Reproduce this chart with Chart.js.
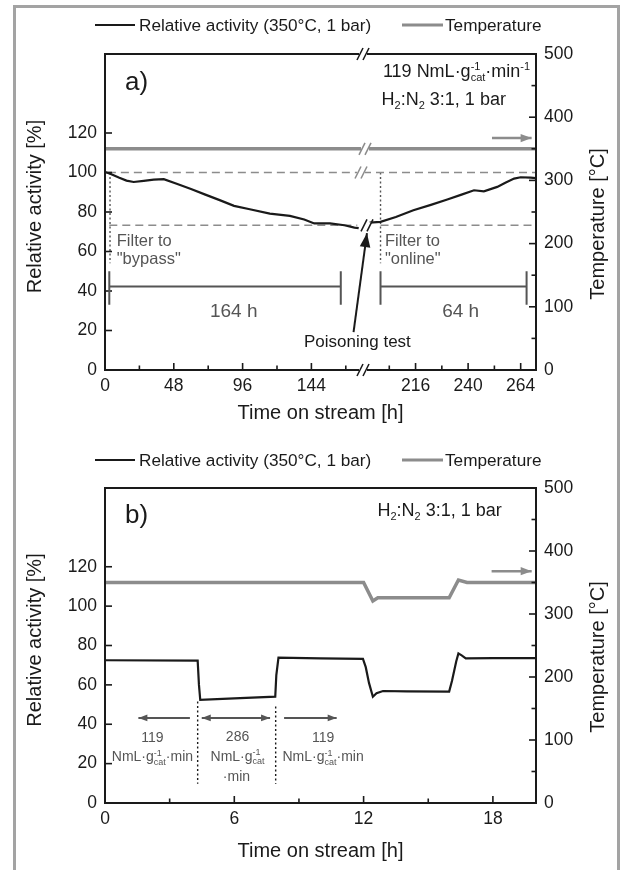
<!DOCTYPE html>
<html>
<head>
<meta charset="utf-8">
<script src="https://cdn.jsdelivr.net/npm/chart.js@4.4.0/dist/chart.umd.min.js"></script>
<style>
  html, body { margin: 0; padding: 0; background: #fff; }
  body { width: 622px; height: 870px; position: relative; overflow: hidden; }
  #frame { position: absolute; left: 13px; top: 5px; width: 607px; height: 900px; border: 3px solid #a3a3a3; box-sizing: border-box; }
  canvas { position: absolute; left: 0; }
  #chartA { top: 0; }
  #chartB { top: 435px; }
</style>
</head>
<body>
<div id="frame"></div>
<canvas id="chartA" width="622" height="435"></canvas>
<canvas id="chartB" width="622" height="435"></canvas>
<script>
// panel a: long run, filter bypass -> poisoning test -> filter online
const actA1Time = [0, 4, 10, 15, 20, 27, 34, 41, 50, 60, 70, 80, 90, 101, 115, 129, 139, 146, 157, 167, 174, 177];
const actA1Val  = [100.3, 99.2, 97.3, 95.9, 95.2, 95.8, 96.4, 96.6, 94.3, 91.6, 88.8, 86.0, 83.1, 81.4, 79.2, 78.0, 76.2, 74.2, 74.2, 73.3, 72.1, 71.8];
const actA2Time = [195, 200, 207, 215, 223, 230.5, 237, 242.7, 247.2, 253.3, 257, 261, 264, 268.5, 271];
const actA2Val  = [74.6, 75.0, 77.5, 80.9, 83.6, 86.3, 88.8, 91.0, 90.5, 92.7, 94.8, 96.9, 97.6, 97.4, 97.2];
const tempALevel = 350;
const refLevels = [100, 73.3];      // dashed guide levels
const filterSwitch = [3.5, 200];    // filter to bypass / online
const axisBreak = [180, 192];
const timeEndA = 271;
const xLabelsA = [0, 48, 96, 144, 216, 240, 264];

// panel b: space velocity steps and temperature step
const actBTime = [0, 4.3, 4.36, 4.42, 6, 7.9, 7.95, 8.05, 10, 11.97, 12.1, 12.25, 12.43, 12.6, 12.9, 14, 15.97, 16.1, 16.3, 16.4, 16.55, 16.74, 18, 20];
const actBVal  = [72.5, 72.3, 60, 52.4, 53.1, 54.0, 65, 73.8, 73.5, 73.2, 69, 61, 54.0, 55.8, 56.9, 56.7, 56.6, 62, 72, 76.0, 75, 73.5, 73.6, 73.6];
const tempBTime = [0, 12.0, 12.43, 12.66, 15.97, 16.4, 16.8, 20];
const tempBVal  = [350, 350, 320.6, 325.8, 325.8, 353.9, 350, 350];
const flowSwitch = [4.3, 7.92];
const xLabelsB = [0, 6, 12, 18];

const actLabels = [0, 20, 40, 60, 80, 100, 120];
const tempLabels = [0, 100, 200, 300, 400, 500];

const FONT = '"Liberation Sans", Arial, sans-serif';
const INK = '#1a1a1a';
const GREY = '#8c8c8c';
const NOTE = '#555555';

Chart.defaults.font.family = FONT;
Chart.defaults.color = INK;

const pts = (xs, ys) => xs.map((x, i) => ({ x: x, y: ys[i] }));

function lineDs(data, xId, yId, color, width, dash) {
    return {
        data: data, xAxisID: xId, yAxisID: yId,
        borderColor: color, backgroundColor: color,
        borderWidth: width, borderDash: dash || [],
        pointRadius: 0, tension: 0, fill: false
    };
}

function labelCb(list) {
    return v => list.includes(v) ? String(v) : '';
}

function xScale(min, max, step, weight, labels, height) {
    return {
        type: 'linear', position: 'bottom', min: min, max: max,
        stack: 'time', stackWeight: weight,
        grid: { display: false, drawTicks: false }, border: { display: false },
        ticks: { stepSize: step, includeBounds: false, autoSkip: false, maxRotation: 0,
                 padding: 6, font: { size: 17.5 }, color: INK, callback: labelCb(labels) },
        afterFit: s => { s.height = height; }
    };
}

function yScales() {
    return {
        y: {
            type: 'linear', position: 'left', min: 0, max: 160,
            grid: { display: false, drawTicks: false }, border: { display: false },
            ticks: { stepSize: 20, autoSkip: false, padding: 8, font: { size: 17.5 }, color: INK,
                     callback: labelCb(actLabels) },
            afterFit: s => { s.width = 105; }
        },
        y2: {
            type: 'linear', position: 'right', min: 0, max: 500,
            grid: { display: false, drawTicks: false }, border: { display: false },
            ticks: { stepSize: 50, autoSkip: false, padding: 8, font: { size: 17.5 }, color: INK,
                     callback: labelCb(tempLabels) },
            afterFit: s => { s.width = 86; }
        }
    };
}

// ---- drawing helpers ----
function drawRich(ctx, parts, x, y, size, align, color) {
    const small = Math.round(size * 0.62);
    const widths = parts.map(p => {
        if (p.length === 1) {
            ctx.font = size + 'px ' + FONT;
            return ctx.measureText(p[0]).width;
        }
        ctx.font = small + 'px ' + FONT;
        return Math.max(ctx.measureText(p[0]).width, ctx.measureText(p[1]).width);
    });
    const total = widths.reduce((s, w) => s + w, 0);
    let cx = align === 'center' ? x - total / 2 : x;
    ctx.fillStyle = color;
    ctx.textAlign = 'left';
    ctx.textBaseline = 'alphabetic';
    parts.forEach((p, i) => {
        if (p.length === 1) {
            ctx.font = size + 'px ' + FONT;
            ctx.fillText(p[0], cx, y);
        } else {
            ctx.font = small + 'px ' + FONT;
            if (p[0]) ctx.fillText(p[0], cx, y - size * 0.42);
            if (p[1]) ctx.fillText(p[1], cx, y + size * 0.22);
        }
        cx += widths[i];
    });
}

function text(ctx, str, x, y, size, color, align) {
    ctx.font = size + 'px ' + FONT;
    ctx.fillStyle = color;
    ctx.textAlign = align || 'left';
    ctx.textBaseline = 'alphabetic';
    ctx.fillText(str, x, y);
}

function head(ctx, x0, y0, x1, y1, len, half) {
    const a = Math.atan2(y1 - y0, x1 - x0);
    const c = Math.cos(a), s = Math.sin(a);
    ctx.beginPath();
    ctx.moveTo(x1, y1);
    ctx.lineTo(x1 - len * c - half * s, y1 - len * s + half * c);
    ctx.lineTo(x1 - len * c + half * s, y1 - len * s - half * c);
    ctx.closePath();
    ctx.fill();
}

function arrow(ctx, x0, y0, x1, y1, color, lw, len, both) {
    ctx.strokeStyle = color;
    ctx.fillStyle = color;
    ctx.lineWidth = lw;
    ctx.setLineDash([]);
    ctx.beginPath();
    ctx.moveTo(x0, y0);
    ctx.lineTo(x1, y1);
    ctx.stroke();
    head(ctx, x0, y0, x1, y1, len, len * 0.38);
    if (both) head(ctx, x1, y1, x0, y0, len, len * 0.38);
}

function breakMark(ctx, x, y, color, gap) {
    ctx.fillStyle = '#fff';
    ctx.fillRect(x - 4, y - gap, 8, gap * 2);
    ctx.strokeStyle = color;
    ctx.lineWidth = 1.6;
    ctx.setLineDash([]);
    [-3, 3].forEach(d => {
        ctx.beginPath();
        ctx.moveTo(x + d - 3, y + 6);
        ctx.lineTo(x + d + 3, y - 6);
        ctx.stroke();
    });
}

function frame(ctx, a) {
    ctx.strokeStyle = INK;
    ctx.lineWidth = 2;
    ctx.setLineDash([]);
    ctx.strokeRect(a.left, a.top, a.right - a.left, a.bottom - a.top);
}

function inTicks(ctx, scale, side, keep, major) {
    const a = scale.chart.chartArea;
    ctx.strokeStyle = INK;
    ctx.lineWidth = 1.6;
    ctx.setLineDash([]);
    scale.ticks.map(t => t.value).filter(keep).forEach(v => {
        const p = scale.getPixelForValue(v);
        const len = major(v) ? 7 : 4.5;
        ctx.beginPath();
        if (side === 'left') { ctx.moveTo(a.left, p); ctx.lineTo(a.left + len, p); }
        if (side === 'right') { ctx.moveTo(a.right, p); ctx.lineTo(a.right - len, p); }
        if (side === 'bottom') { ctx.moveTo(p, a.bottom); ctx.lineTo(p, a.bottom - len); }
        ctx.stroke();
    });
}

function legend(ctx) {
    ctx.setLineDash([]);
    ctx.strokeStyle = INK;
    ctx.lineWidth = 2;
    ctx.beginPath(); ctx.moveTo(95, 25); ctx.lineTo(135, 25); ctx.stroke();
    ctx.strokeStyle = GREY;
    ctx.lineWidth = 3;
    ctx.beginPath(); ctx.moveTo(402, 25); ctx.lineTo(443, 25); ctx.stroke();
    text(ctx, 'Relative activity (350°C, 1 bar)', 139, 31.3, 17.2, INK);
    text(ctx, 'Temperature', 445, 31.3, 17.2, INK);
}

function titles(ctx, a, yLeft, yRight, xGap) {
    ctx.font = '20px ' + FONT;
    ctx.fillStyle = INK;
    ctx.textAlign = 'center';
    ctx.textBaseline = 'middle';
    ctx.fillText('Time on stream [h]', (a.left + a.right) / 2, a.bottom + xGap);
    [['Relative activity [%]', 35, yLeft], ['Temperature [°C]', 598, yRight]].forEach(t => {
        ctx.save();
        ctx.translate(t[1], t[2]);
        ctx.rotate(-Math.PI / 2);
        ctx.fillText(t[0], 0, 0);
        ctx.restore();
    });
}

function bracket(ctx, x0, x1, y, yTop, yBot) {
    ctx.strokeStyle = NOTE;
    ctx.lineWidth = 2;
    ctx.setLineDash([]);
    ctx.beginPath();
    ctx.moveTo(x0, y); ctx.lineTo(x1, y);
    ctx.moveTo(x0, yTop); ctx.lineTo(x0, yBot);
    ctx.moveTo(x1, yTop); ctx.lineTo(x1, yBot);
    ctx.stroke();
}

const flowUnit = [['NmL·g'], ['-1', 'cat'], ['·min']];

const decorA = {
    id: 'decorA',
    afterDatasetsDraw(chart) {
        const ctx = chart.ctx, a = chart.chartArea;
        const { xa, xb, y, y2 } = chart.scales;
        const bx = xa.right;
        ctx.save();
        breakMark(ctx, bx + 2, y2.getPixelForValue(tempALevel), GREY, 4);
        breakMark(ctx, bx - 2, y.getPixelForValue(refLevels[0]), GREY, 3);
        breakMark(ctx, bx + 4, y.getPixelForValue(73.2), INK, 3);
        frame(ctx, a);
        breakMark(ctx, bx, a.top, INK, 3);
        breakMark(ctx, bx, a.bottom, INK, 3);

        inTicks(ctx, y, 'left', v => v > 0 && v <= 120, () => true);
        inTicks(ctx, y2, 'right', v => v > 0 && v < 500, v => v % 100 === 0);
        inTicks(ctx, xa, 'bottom', v => v > 0 && v < axisBreak[0], v => v % 48 === 0);
        inTicks(ctx, xb, 'bottom', v => v > axisBreak[1], v => v % 24 === 0);

        legend(ctx);
        titles(ctx, a, 206.5, 224, 43);

        text(ctx, 'a)', xa.getPixelForValue(14), y.getPixelForValue(141.6), 26, INK);
        drawRich(ctx, [['119 NmL·g'], ['-1', 'cat'], ['·min'], ['-1', '']],
                 xb.getPixelForValue(201.1), y.getPixelForValue(148.3), 18, 'left', INK);
        drawRich(ctx, [['H'], ['', '2'], [':N'], ['', '2'], [' 3:1, 1 bar']],
                 xb.getPixelForValue(200.5), y.getPixelForValue(134), 18, 'left', INK);
        arrow(ctx, xb.getPixelForValue(250.9), y2.getPixelForValue(367),
              xb.getPixelForValue(269), y2.getPixelForValue(367), GREY, 2.5, 11, false);

        text(ctx, 'Filter to', xa.getPixelForValue(8.2), y.getPixelForValue(62.8), 16.5, NOTE);
        text(ctx, '"bypass"', xa.getPixelForValue(8.2), y.getPixelForValue(53.6), 16.5, NOTE);
        text(ctx, 'Filter to', xb.getPixelForValue(202), y.getPixelForValue(62.8), 16.5, NOTE);
        text(ctx, '"online"', xb.getPixelForValue(202), y.getPixelForValue(53.6), 16.5, NOTE);

        bracket(ctx, xa.getPixelForValue(3), xa.getPixelForValue(164.5), y.getPixelForValue(42.3),
                y.getPixelForValue(50), y.getPixelForValue(33));
        bracket(ctx, xb.getPixelForValue(200), xb.getPixelForValue(266.7), y.getPixelForValue(42.3),
                y.getPixelForValue(50), y.getPixelForValue(33));
        text(ctx, '164 h', xa.getPixelForValue(89.8), y.getPixelForValue(26.6), 19, NOTE, 'center');
        text(ctx, '64 h', xb.getPixelForValue(236.6), y.getPixelForValue(26.6), 19, NOTE, 'center');

        arrow(ctx, xa.getPixelForValue(173.4), y.getPixelForValue(19.2),
              xb.getPixelForValue(193.8), y.getPixelForValue(69.3), INK, 2, 14, false);
        text(ctx, 'Poisoning test', xa.getPixelForValue(176.1), y.getPixelForValue(11.6), 17, INK, 'center');
        ctx.restore();
    }
};

const decorB = {
    id: 'decorB',
    afterDatasetsDraw(chart) {
        const ctx = chart.ctx, a = chart.chartArea;
        const { x, y, y2 } = chart.scales;
        const px = v => x.getPixelForValue(v);
        const py = v => y.getPixelForValue(v);
        ctx.save();
        frame(ctx, a);
        inTicks(ctx, y, 'left', v => v > 0 && v <= 120, () => true);
        inTicks(ctx, y2, 'right', v => v > 0 && v < 500, v => v % 100 === 0);
        inTicks(ctx, x, 'bottom', v => v > 0 && v < 20, v => v % 6 === 0);

        legend(ctx);
        titles(ctx, a, 205, 222, 48);

        text(ctx, 'b)', px(0.93), py(142.1), 26, INK);
        drawRich(ctx, [['H'], ['', '2'], [':N'], ['', '2'], [' 3:1, 1 bar']], px(12.64), py(145.7), 18, 'left', INK);
        arrow(ctx, px(17.94), y2.getPixelForValue(368), px(19.8), y2.getPixelForValue(368), GREY, 2.5, 11, false);

        arrow(ctx, px(3.94), py(43.2), px(1.55), py(43.2), NOTE, 2, 9, false);
        arrow(ctx, px(4.49), py(43.2), px(7.66), py(43.2), NOTE, 2, 9, true);
        arrow(ctx, px(8.31), py(43.2), px(10.75), py(43.2), NOTE, 2, 9, false);

        text(ctx, '119', px(2.2), py(31.2), 14, NOTE, 'center');
        drawRich(ctx, flowUnit, px(2.2), py(21.1), 14, 'center', NOTE);
        text(ctx, '286', px(6.15), py(31.7), 14, NOTE, 'center');
        drawRich(ctx, flowUnit.slice(0, 2), px(6.15), py(21.4), 14, 'center', NOTE);
        text(ctx, '·min', px(6.1), py(11), 14, NOTE, 'center');
        text(ctx, '119', px(10.12), py(31.2), 14, NOTE, 'center');
        drawRich(ctx, flowUnit, px(10.12), py(21.1), 14, 'center', NOTE);
        ctx.restore();
    }
};

const dashRef = [8, 5];
const dotted = [2, 2.5];

new Chart(document.getElementById('chartA'), {
    type: 'line',
    data: {
        datasets: [
            lineDs(pts(actA1Time, actA1Val), 'xa', 'y', INK, 2.2),
            lineDs(pts(actA2Time, actA2Val), 'xb', 'y', INK, 2.2),
            lineDs([{ x: 0, y: tempALevel }, { x: axisBreak[0], y: tempALevel }], 'xa', 'y2', GREY, 3.5),
            lineDs([{ x: axisBreak[1], y: tempALevel }, { x: timeEndA, y: tempALevel }], 'xb', 'y2', GREY, 3.5),
            lineDs([{ x: 2, y: refLevels[0] }, { x: axisBreak[0], y: refLevels[0] }], 'xa', 'y', GREY, 1.5, dashRef),
            lineDs([{ x: axisBreak[1], y: refLevels[0] }, { x: timeEndA, y: refLevels[0] }], 'xb', 'y', GREY, 1.5, dashRef),
            lineDs([{ x: 3, y: refLevels[1] }, { x: 176, y: refLevels[1] }], 'xa', 'y', GREY, 1.5, dashRef),
            lineDs([{ x: 200, y: refLevels[1] }, { x: timeEndA, y: refLevels[1] }], 'xb', 'y', GREY, 1.5, dashRef),
            lineDs([{ x: filterSwitch[0], y: refLevels[0] }, { x: filterSwitch[0], y: 54 }], 'xa', 'y', NOTE, 1.4, dotted),
            lineDs([{ x: filterSwitch[1], y: refLevels[0] }, { x: filterSwitch[1], y: 54 }], 'xb', 'y', NOTE, 1.4, dotted)
        ]
    },
    options: {
        responsive: false, animation: false, devicePixelRatio: 1,
        layout: { padding: { top: 54, left: 0, right: 0, bottom: 0 } },
        plugins: { legend: { display: false }, tooltip: { enabled: false } },
        scales: Object.assign({
            xa: xScale(0, axisBreak[0], 24, 258, xLabelsA, 65),
            xb: xScale(axisBreak[1], timeEndA, 12, 173, xLabelsA, 65)
        }, yScales())
    },
    plugins: [decorA]
});

const bScales = yScales();
bScales.x = xScale(0, 20, 3, 1, xLabelsB, 67);
delete bScales.x.stack;

new Chart(document.getElementById('chartB'), {
    type: 'line',
    data: {
        datasets: [
            lineDs(pts(actBTime, actBVal), 'x', 'y', INK, 2.2),
            lineDs(pts(tempBTime, tempBVal), 'x', 'y2', GREY, 3.5),
            lineDs([{ x: flowSwitch[0], y: 51.5 }, { x: flowSwitch[0], y: 9.8 }], 'x', 'y', INK, 1.4, dotted),
            lineDs([{ x: flowSwitch[1], y: 49 }, { x: flowSwitch[1], y: 9.8 }], 'x', 'y', INK, 1.4, dotted)
        ]
    },
    options: {
        responsive: false, animation: false, devicePixelRatio: 1,
        layout: { padding: { top: 53, left: 0, right: 0, bottom: 0 } },
        plugins: { legend: { display: false }, tooltip: { enabled: false } },
        scales: { x: bScales.x, y: bScales.y, y2: bScales.y2 }
    },
    plugins: [decorB]
});
</script>
</body>
</html>
